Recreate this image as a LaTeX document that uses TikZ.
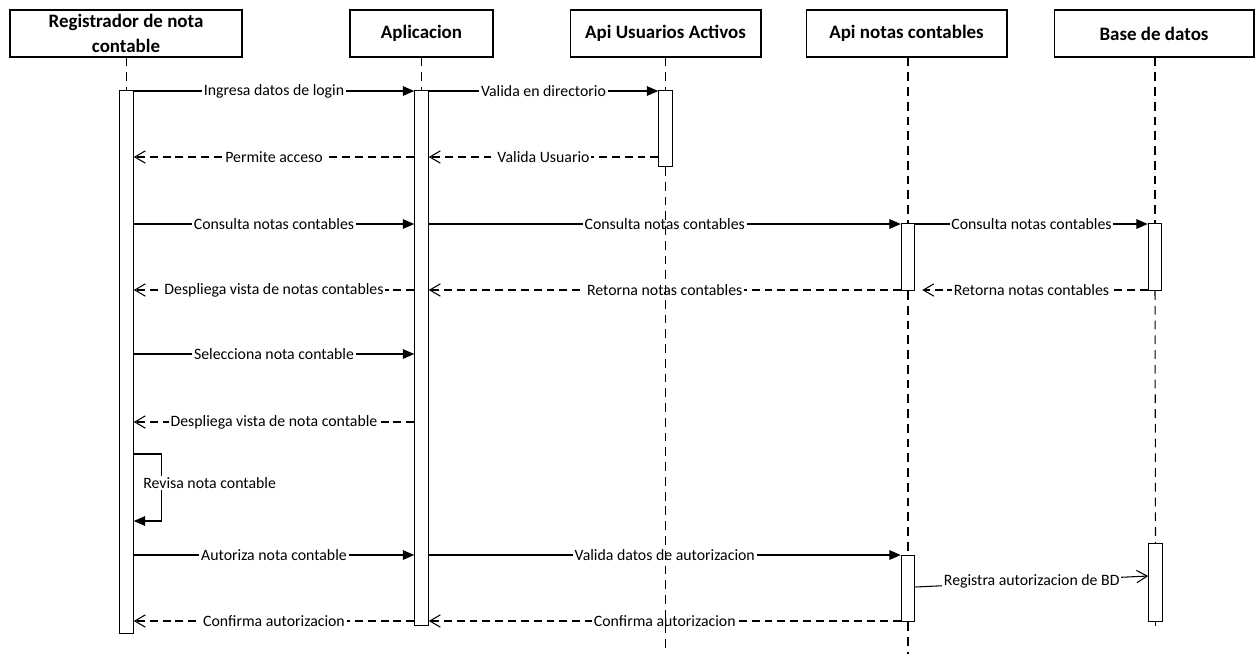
\documentclass[tikz,border=0pt]{standalone}
\usepackage{fontspec}
\setmainfont{Carlito}
\usetikzlibrary{arrows.meta}

\begin{document}
\begin{tikzpicture}[x=0.02cm, y=-0.02cm, line width=0.6pt,
  head/.style={draw, rectangle, minimum height=0.94cm, align=center, inner sep=1pt,
    font=\fontsize{10.8}{14}\selectfont\bfseries},
  bar/.style={draw, fill=white, rectangle, minimum width=0.27cm, inner sep=0pt, anchor=north},
  life/.style={dash pattern=on 5pt off 3.4pt},
  msg/.style={-{Triangle[length=6.5pt,width=5.5pt]}},
  ret/.style={dash pattern=on 4.5pt off 2.8pt, -{Straight Barb[length=6pt,width=7pt]}},
  lbl/.style={fill=white, inner sep=1pt, font=\fontsize{9}{11}\selectfont}]
 \useasboundingbox (0,0) rectangle (1257,654);

 % participants
 \node[head, minimum width=4.64cm] (hR) at (126,33.5) {Registrador de nota\\contable};
 \node[head, minimum width=2.86cm] (hA) at (421.5,33.5) {Aplicacion};
 \node[head, minimum width=3.82cm] (hU) at (665.5,33.5) {Api Usuarios Activos};
 \node[head, minimum width=4.02cm] (hN) at (906.5,33.5) {Api notas contables};
 \node[head, minimum width=4.00cm] (hD) at (1154,33.5) {Base de datos};

 % activations
 \node[bar, minimum height=10.86cm] (barR) at (126.5,90) {};
 \node[bar, minimum height=10.70cm] (barA) at (421.5,90) {};
 \node[bar, minimum height=1.52cm] (barU) at (665.5,90) {};
 \node[bar, minimum height=1.34cm] (barN1) at (908,223) {};
 \node[bar, minimum height=1.34cm] (barD1) at (1155,223) {};
 \node[bar, minimum height=1.32cm] (barN2) at (908,555) {};
 \node[bar, minimum height=1.56cm] (barD2) at (1155.5,543) {};

 \foreach \n/\y in {m1/91,m2/157,m3/224,m4/290,m5/354,m6/422,m7/555,m8/621,s1/454,s2/521,r1/587,r2/576,bot/654}
  \coordinate (\n) at (0,\y);

 % messages
 \draw[msg] (barR.east |- m1) -- (barA.west |- m1) node[lbl, midway] {Ingresa datos de login};
 \draw[msg] (barA.east |- m1) -- (barU.west |- m1) node[lbl, midway] {Valida en directorio};
 \draw[ret] (barU.west |- m2) -- (barA.east |- m2) node[lbl, midway] {Valida Usuario};
 \draw[ret] (barA.west |- m2) -- (barR.east |- m2) node[lbl, midway] {Permite acceso};

 \draw[msg] (barR.east |- m3) -- (barA.west |- m3) node[lbl, midway] {Consulta notas contables};
 \draw[msg] (barA.east |- m3) -- (barN1.west |- m3) node[lbl, midway] {Consulta notas contables};
 \draw[msg] (barN1.east |- m3) -- (barD1.west |- m3) node[lbl, midway] {Consulta notas contables};
 \draw[ret, shorten >=0.14cm] (barD1.west |- m4) -- (barN1.east |- m4) node[lbl, midway] {Retorna notas contables};
 \draw[ret] (barN1.west |- m4) -- (barA.east |- m4) node[lbl, midway] {Retorna notas contables};
 \draw[ret] (barA.west |- m4) -- (barR.east |- m4) node[lbl, midway] {Despliega vista de notas contables};

 \draw[msg] (barR.east |- m5) -- (barA.west |- m5) node[lbl, midway] {Selecciona nota contable};
 \draw[ret] (barA.west |- m6) -- (barR.east |- m6) node[lbl, midway] {Despliega vista de nota contable};

 \draw[msg] (barR.east |- s1) -- ++(28,0) -- ++(0,67) -- (barR.east |- s2);
 \node[lbl, anchor=west] (revisa) at (141,483) {Revisa nota contable};

 \draw[msg] (barR.east |- m7) -- (barA.west |- m7) node[lbl, midway] {Autoriza nota contable};
 \draw[msg] (barA.east |- m7) -- (barN2.west |- m7) node[lbl, midway] {Valida datos de autorizacion};
 \draw[-{Straight Barb[length=6pt,width=7pt]}] (barN2.east |- r1) -- (barD2.west |- r2) node[lbl, midway] {Registra autorizacion de BD};
 \draw[ret] (barN2.west |- m8) -- (barA.east |- m8) node[lbl, midway] {Confirma autorizacion};
 \draw[ret] (barA.west |- m8) -- (barR.east |- m8) node[lbl, midway] {Confirma autorizacion};

 % lifelines
 \draw[life] (barR.north |- hR.south) -- (barR.north);
 \draw[life] (barA.north |- hA.south) -- (barA.north);
 \draw[life] (barU.north |- hU.south) -- (barU.north);
 \draw[life] (barU.south) -- (barU.south |- bot);
 \draw[life] (barN1.north |- hN.south) -- (barN1.north);
 \draw[life] (barN1.south) -- (barN2.north);
 \draw[life] (barN2.south) -- (barN2.south |- bot);
 \draw[life] (barD1.north |- hD.south) -- (barD1.north);
 \draw[life] (barD1.south) -- (barD2.north);
 \draw[life] (barD2.south) -- ++(0,4);
\end{tikzpicture}
\end{document}
